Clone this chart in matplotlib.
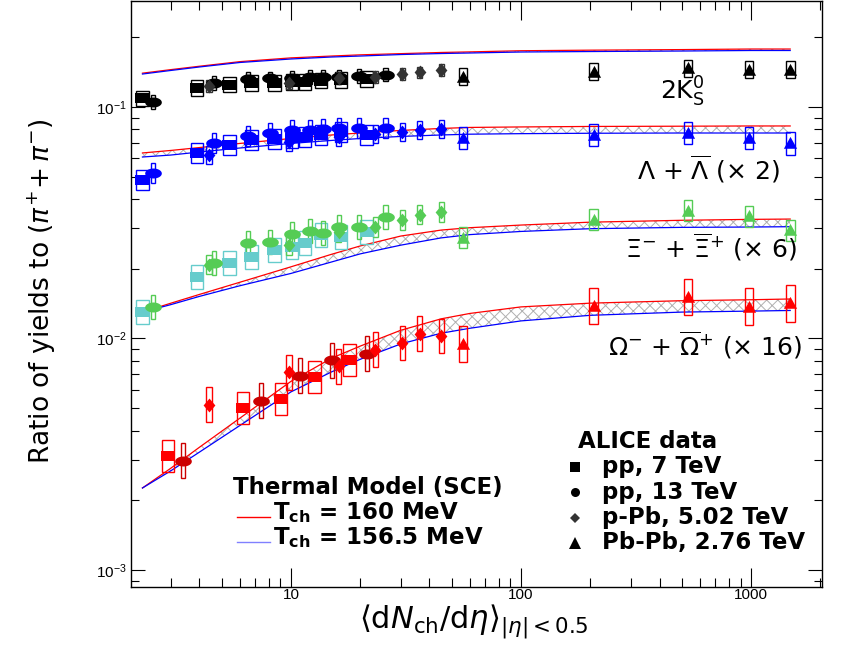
import numpy as np
import matplotlib
matplotlib.use("Agg")
import matplotlib.pyplot as plt
from matplotlib.path import Path
from matplotlib.patches import Rectangle
from matplotlib.ticker import LogLocator, FuncFormatter, NullFormatter

plt.rcParams["font.family"] = ["Liberation Sans", "DejaVu Sans"]
plt.rcParams["mathtext.fontset"] = "dejavusans"
plt.rcParams["hatch.color"] = "#b0b0b0"
plt.rcParams["hatch.linewidth"] = 0.7

# <dNch/deta> of the multiplicity classes
x_pp7 = [2.26, 3.90, 5.40, 6.72, 8.45, 10.1, 11.5, 13.5, 16.5, 21.3]
x_pp13 = [2.52, 4.64, 6.48, 8.07, 10.11, 12.06, 13.76, 16.12, 19.83, 25.75]
x_ppb = [4.4, 9.8, 16.1, 23.2, 30.5, 36.2, 45.0]
x_pbpb = [56, 207, 532, 980, 1480]
x_pp7_om = [2.92, 6.18, 9.05, 12.7, 17.9]
x_pp13_om = [3.39, 7.41, 10.9, 15.1, 21.4]

# 2K0S / pi
k0s_pp7 = [0.109, 0.121, 0.125, 0.127, 0.127, 0.128, 0.128, 0.130, 0.131, 0.132]
k0s_pp13 = [0.105, 0.127, 0.132, 0.133, 0.134, 0.135, 0.135, 0.135, 0.136, 0.138]
k0s_ppb = [0.123, 0.127, 0.133, 0.135, 0.139, 0.141, 0.144]
k0s_pbpb = [0.135, 0.142, 0.147, 0.145, 0.145]
# (Lambda + anti-Lambda) / pi  x 2
lam_pp7 = [0.0484, 0.0633, 0.0685, 0.0720, 0.0727, 0.0735, 0.0742, 0.0757, 0.0780, 0.0757]
lam_pp13 = [0.0519, 0.0699, 0.0749, 0.0772, 0.0796, 0.0796, 0.0804, 0.0812, 0.0812, 0.0812]
lam_ppb = [0.0620, 0.0706, 0.0742, 0.0765, 0.0780, 0.0796, 0.0804]
lam_pbpb = [0.0735, 0.0757, 0.0772, 0.0735, 0.0696]
# Xi / pi  x 6
xi_pp7 = [0.0130, 0.0184, 0.0212, 0.0225, 0.0241, 0.0248, 0.0259, 0.0280, 0.0274, 0.0288]
xi_pp13 = [0.0137, 0.0212, 0.0259, 0.0261, 0.0283, 0.0291, 0.0286, 0.0303, 0.0303, 0.0335]
xi_ppb = [0.0208, 0.0253, 0.0288, 0.0303, 0.0325, 0.0342, 0.0352]
xi_pbpb = [0.0272, 0.0325, 0.0356, 0.0338, 0.0294]
# Omega / pi  x 16
om_pp7 = [0.00311, 0.00501, 0.00548, 0.00682, 0.00807]
om_pp13 = [0.00296, 0.00537, 0.00689, 0.00807, 0.00857]
om_ppb = [0.00516, 0.00716, 0.00760, 0.00892, 0.00956, 0.01046, 0.01025]
om_pbpb = [0.00947, 0.0138, 0.0151, 0.0137, 0.0142]

# relative systematic uncertainties (pp7, pp13, p-Pb, Pb-Pb)
sys_k0s = [0.08, 0.07, 0.06, 0.09]
sys_lam = [0.10, 0.10, 0.09, 0.12]
sys_xi = [0.13, 0.13, 0.10, 0.11]
sys_om = [0.17, 0.19, 0.19, 0.20]

# thermal model (SCE) curves
x_model = [2.26, 3, 4, 6, 10, 15, 20, 30, 45, 60, 100, 200, 500, 1000, 1480]
k0s_160 = [0.140, 0.145, 0.150, 0.157, 0.163, 0.166, 0.168, 0.170, 0.172, 0.173, 0.175, 0.176, 0.177, 0.178, 0.178]
k0s_156 = [0.1388, 0.1438, 0.1489, 0.1557, 0.1612, 0.1644, 0.1660, 0.1685, 0.1702, 0.1711, 0.1728, 0.1736, 0.1745, 0.1754, 0.1754]
lam_160 = [0.0633, 0.0649, 0.0668, 0.0696, 0.0731, 0.0757, 0.0772, 0.0792, 0.0808, 0.0816, 0.0820, 0.0824, 0.0826, 0.0828, 0.0828]
lam_156 = [0.0608, 0.0620, 0.0639, 0.0665, 0.0696, 0.0717, 0.0731, 0.0746, 0.0757, 0.0763, 0.0767, 0.0770, 0.0772, 0.0772, 0.0772]
xi_160 = [0.0130, 0.0142, 0.0155, 0.0175, 0.0204, 0.0231, 0.0251, 0.0277, 0.0294, 0.0301, 0.0309, 0.0318, 0.0324, 0.0327, 0.0328]
xi_156 = [0.0130, 0.0140, 0.0152, 0.0169, 0.0191, 0.0214, 0.0232, 0.0253, 0.0272, 0.0281, 0.0290, 0.0298, 0.0302, 0.0303, 0.0304]
om_160 = [0.00226, 0.00275, 0.00339, 0.00453, 0.00653, 0.00822, 0.00927, 0.01085, 0.01216, 0.01283, 0.01369, 0.01421, 0.01456, 0.01470, 0.01481]
om_156 = [0.00226, 0.00268, 0.00323, 0.00421, 0.00588, 0.00717, 0.00813, 0.00947, 0.01054, 0.01107, 0.01191, 0.01259, 0.01300, 0.01313, 0.01321]


def shape(pts):
    return Path(pts + [pts[0]], closed=True)

t = np.linspace(0, 2 * np.pi, 40)
m_square = shape([(-1, -0.8), (1, -0.8), (1, 0.8), (-1, 0.8)])
m_ellipse = Path(np.column_stack([np.cos(t), 0.6 * np.sin(t)]), closed=True)
m_diamond = shape([(0, 1), (0.85, 0), (0, -1), (-0.85, 0)])
m_triangle = shape([(0, 1), (1, -0.8), (-1, -0.8)])

# marker, size, box half-width in decades, per system
systems = [(m_square, 9.5, 0.028), (m_ellipse, 12, 0.009),
           (m_diamond, 10, 0.011), (m_triangle, 9.5, 0.019)]

species = [
    ([x_pp7, x_pp13, x_ppb, x_pbpb], [k0s_pp7, k0s_pp13, k0s_ppb, k0s_pbpb], sys_k0s,
     ["black", "black", "#333333", "black"], k0s_160, k0s_156),
    ([x_pp7, x_pp13, x_ppb, x_pbpb], [lam_pp7, lam_pp13, lam_ppb, lam_pbpb], sys_lam,
     ["#0000ff"] * 4, lam_160, lam_156),
    ([x_pp7, x_pp13, x_ppb, x_pbpb], [xi_pp7, xi_pp13, xi_ppb, xi_pbpb], sys_xi,
     ["#66cccc", "#55cc55", "#55cc55", "#55cc55"], xi_160, xi_156),
    ([x_pp7_om, x_pp13_om, x_ppb, x_pbpb], [om_pp7, om_pp13, om_ppb, om_pbpb], sys_om,
     ["#ff0000", "#cc0000", "#ff0000", "#ff0000"], om_160, om_156),
]

fig = plt.figure(figsize=(8.49, 6.47), dpi=100)
ax = fig.add_axes([131 / 849, 60 / 647, 691 / 849, 586 / 647])
ax.set_xscale("log")
ax.set_yscale("log")

for xs, ys, rel, cols, m160, m156 in species:
    ax.fill_between(x_model, m156, m160, facecolor="none", edgecolor="#b0b0b0",
                    hatch="xxx", linewidth=0, zorder=1)
    ax.plot(x_model, m160, color="#ff0000", lw=0.9, zorder=2)
    ax.plot(x_model, m156, color="#0000ff", lw=0.9, zorder=2)
    for (mk, ms, hw), x, y, r, c in zip(systems, xs, ys, rel, cols):
        for xi, yi in zip(x, y):
            x0, x1 = xi * 10 ** (-hw), xi * 10 ** hw
            y0, y1 = yi / (1 + r), yi * (1 + r)
            ax.add_patch(Rectangle((x0, y0), x1 - x0, y1 - y0, fill=False,
                                   edgecolor=c, lw=1.0, zorder=3))
        ax.plot(x, y, linestyle="none", marker=mk, ms=ms, color=c, mew=0, zorder=4)

ax.set_xlim(2.015, 2035)
ax.set_ylim(8.44e-4, 0.287)

ax.xaxis.set_major_locator(LogLocator(base=10))
ax.xaxis.set_minor_locator(LogLocator(base=10, subs=np.arange(2, 10)))
ax.xaxis.set_major_formatter(FuncFormatter(lambda v, p: "%g" % v))
ax.xaxis.set_minor_formatter(NullFormatter())
ax.yaxis.set_minor_locator(LogLocator(base=10, subs=np.arange(2, 10)))
ax.yaxis.set_minor_formatter(NullFormatter())
ax.tick_params(which="both", direction="in", top=True, right=True, width=0.8,
               labelsize=11)
ax.tick_params(axis="x", which="major", length=14, pad=1)
ax.tick_params(axis="x", which="minor", length=6.5)
ax.tick_params(axis="y", which="major", length=10, pad=3)
ax.tick_params(axis="y", which="minor", length=6)
for s in ax.spines.values():
    s.set_linewidth(1.0)

ax.set_ylabel(r"Ratio of yields to $\left(\pi^{+}\!+\pi^{-}\right)$", fontsize=19,
              family="DejaVu Sans")
ax.yaxis.set_label_coords(-0.105, 0.505)
ax.set_xlabel(r"$\langle\mathrm{d}N_{\mathrm{ch}}/\mathrm{d}\eta\rangle_{|\eta|<0.5}$",
              fontsize=22)
ax.xaxis.set_label_coords(0.496, -0.027)

# species labels
txt = dict(transform=ax.transAxes, fontsize=18, family="DejaVu Sans", va="center")
ax.text(0.7656, 0.845, r"$\mathrm{2K}^{0}_{\mathrm{S}}$", ha="left", **txt)
ax.text(0.939, 0.712, r"$\Lambda$ + $\overline{\Lambda}$ ($\times$ 2)", ha="right", **txt)
ax.text(0.964, 0.580, r"$\Xi^{-}$ + $\overline{\Xi}^{+}$ ($\times$ 6)", ha="right", **txt)
ax.text(0.971, 0.413, r"$\Omega^{-}$ + $\overline{\Omega}^{+}$ ($\times$ 16)", ha="right", **txt)

# ALICE data legend
leg = dict(transform=ax.transAxes, fontsize=16.5, family="DejaVu Sans",
           fontweight="bold", va="center", ha="left")
ax.text(0.647, 0.249, "ALICE data", **leg)
alice_entries = [("pp, 7 TeV", "s", 6.5, "black"), ("pp, 13 TeV", "o", 6.5, "black"),
                 ("p-Pb, 5.02 TeV", "D", 5.5, "#333333"),
                 ("Pb-Pb, 2.76 TeV", "^", 8.5, "black")]
for k, (lab, mk, ms, c) in enumerate(alice_entries):
    yy = 0.2048 - k * 0.0432
    ax.plot([0.6425], [yy], marker=mk, ms=ms, color=c, mew=0,
            transform=ax.transAxes, clip_on=False)
    ax.text(0.6816, yy, lab, clip_on=False, **leg)

# thermal model legend
ax.text(0.1476, 0.169, "Thermal Model (SCE)", **leg)
model_entries = [(r"$\mathbf{T_{ch}}$ = 160 MeV", "#ff0000"),
                 (r"$\mathbf{T_{ch}}$ = 156.5 MeV", "#8080ff")]
for k, (lab, c) in enumerate(model_entries):
    yy = 0.1263 - k * 0.0427
    ax.plot([0.1534, 0.2012], [yy - 0.007, yy - 0.007], color=c, lw=1.0,
            transform=ax.transAxes)
    ax.text(0.2055, yy, lab, **leg)

fig.savefig("out.png", dpi=100)
